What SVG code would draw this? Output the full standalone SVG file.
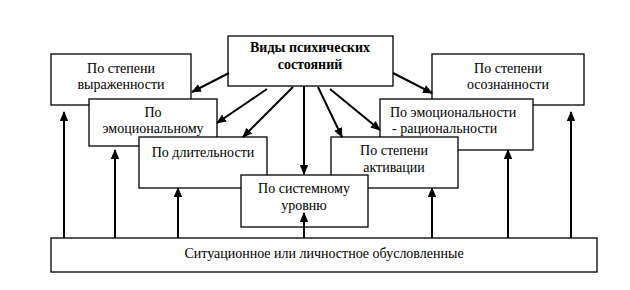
<svg xmlns="http://www.w3.org/2000/svg" width="630" height="290" viewBox="0 0 630 290">
<style>
.b{fill:#fff;stroke:#000;stroke-width:1.3}
.t{font-family:"Liberation Serif","DejaVu Serif",serif;font-size:14px;fill:#000;text-anchor:middle}
.tb{font-weight:bold}
.c{stroke:#000;stroke-width:2;fill:none;marker-end:url(#ah)}
</style>
<defs>
<marker id="ah" markerUnits="userSpaceOnUse" markerWidth="10" markerHeight="10" viewBox="0 0 10 10" refX="9" refY="5" orient="auto">
<path d="M0,0.8 L10,5 L0,9.2 Z" fill="#000"/>
</marker>
</defs>
<rect width="630" height="290" fill="#fff"/>
<g id="n_vyrazh"><rect class="b" x="51" y="54" width="140" height="51"/><text class="t" x="121" y="73">По степени</text><text class="t" x="121" y="89">выраженности</text></g>
<g id="n_osozn"><rect class="b" x="432" y="54" width="152" height="51"/><text class="t" x="508" y="73">По степени</text><text class="t" x="508" y="89">осознанности</text></g>
<g id="n_emoc"><rect class="b" x="89" y="99" width="128" height="47"/><text class="t" x="153" y="117">По</text><text class="t" x="153" y="133">эмоциональному</text></g>
<g id="n_emorac"><rect class="b" x="380" y="99" width="153" height="51"/><text class="t" x="390" y="117" style="text-anchor:start">По эмоциональности</text><text class="t" x="392" y="133" style="text-anchor:start">- рациональности</text></g>
<g id="n_dlit"><rect class="b" x="139" y="137" width="128" height="51"/><text class="t" x="203" y="157">По длительности</text></g>
<g id="n_aktiv"><rect class="b" x="331" y="137" width="127" height="51"/><text class="t" x="394" y="155">По степени</text><text class="t" x="394" y="172">активации</text></g>
<g id="n_sist"><rect class="b" x="241" y="175" width="127" height="52"/><text class="t" x="304" y="193">По системному</text><text class="t" x="304" y="210">уровню</text></g>
<g id="n_vidy"><rect class="b" x="228" y="36" width="165" height="50"/><text class="t tb" x="310" y="52">Виды психических</text><text class="t tb" x="310" y="69">состояний</text></g>
<g id="n_sit"><rect class="b" x="51" y="238" width="546" height="34"/><text class="t" x="324" y="258">Ситуационное или личностное обусловленные</text></g>
<g id="connectors">
<line class="c" x1="229" y1="73" x2="192" y2="92"/>
<line class="c" x1="267" y1="89" x2="217" y2="123"/>
<line class="c" x1="293" y1="87" x2="243" y2="137"/>
<line class="c" x1="304" y1="86" x2="304" y2="174"/>
<line class="c" x1="318" y1="87" x2="342" y2="137"/>
<line class="c" x1="330" y1="89" x2="380" y2="130"/>
<line class="c" x1="393" y1="73" x2="432" y2="93"/>
<line class="c" x1="64" y1="238" x2="64" y2="112"/>
<line class="c" x1="115" y1="238" x2="115" y2="150"/>
<line class="c" x1="178" y1="238" x2="178" y2="188"/>
<line class="c" x1="304" y1="238" x2="304" y2="213"/>
<line class="c" x1="432" y1="238" x2="432" y2="188"/>
<line class="c" x1="508" y1="238" x2="508" y2="150"/>
<line class="c" x1="571" y1="238" x2="571" y2="112"/>
</g>
</svg>
